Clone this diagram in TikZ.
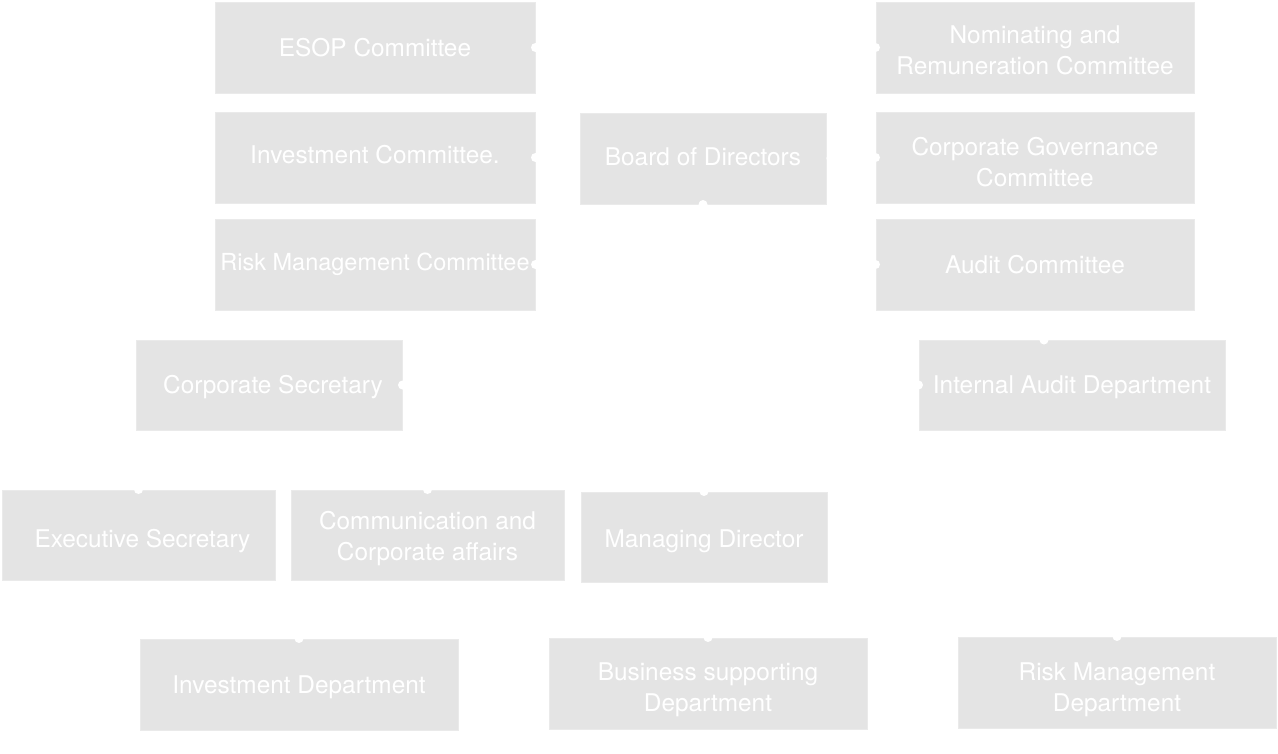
\documentclass[tikz,border=0pt]{standalone}
\usepackage{fontspec}
\setmainfont{TeX Gyre Heros}
\definecolor{boxgray}{HTML}{E4E4E4}
\definecolor{boxedge}{HTML}{EAEAEA}
\newcommand{\lift}[1]{\rule{0pt}{#1pt}}
\tikzset{
  box/.style={rectangle, fill=boxgray, draw=boxedge, line width=1pt, text=white,
    font=\fontsize{24.4}{31}\selectfont, align=center, inner sep=0pt, minimum height=90pt},
  dn/.style={execute at begin node={\rule{0pt}{#1pt}}},
  up/.style={execute at end node={\rule[-#1pt]{0pt}{0pt}}},
  link/.style={draw=white, line width=2pt},
  dot/.style={circle, fill=white, inner sep=0pt, minimum size=9pt}
}
\begin{document}
\begin{tikzpicture}[x=1pt,y=-1pt]
\useasboundingbox (0,0) rectangle (1278,753);
\fill[white] (0,0) rectangle (1278,753);
% left committees
\node[box, minimum width=320pt, minimum height=91pt] (esop) at (375,47.5) {ESOP Committee};
\node[box, minimum width=320pt, minimum height=91pt, up=6] (invc) at (375,157.5) {Investment Committee.};
\node[box, minimum width=320pt, minimum height=91pt, font=\fontsize{23.5}{31}\selectfont] (riskc) at (375,264.5) {Risk Management Committee};
% board
\node[box, minimum width=246pt, minimum height=91pt, up=4] (board) at (703,158.5) {Board of Directors};
% right committees
\node[box, minimum width=318pt, minimum height=91pt] (nom) at (1035,47.5) {\lift{24}Nominating and\\Remuneration Committee};
\node[box, minimum width=318pt, minimum height=91pt] (corpgov) at (1035,157.5) {\lift{28}Corporate Governance\\Committee};
\node[box, minimum width=318pt, minimum height=91pt] (audit) at (1035,264.5) {Audit Committee};
% middle row
\node[box, minimum width=306pt, dn=22] (intaudit) at (1072,385) {Internal Audit Department};
\node[box, minimum width=266pt, dn=22] (corpsec) at (269,385) {\hspace*{8pt}Corporate Secretary};
% fourth row
\node[box, minimum width=273pt, dn=30] (execsec) at (138.5,535) {\hspace*{8pt}Executive Secretary};
\node[box, minimum width=273pt] (comm) at (427.5,535) {\lift{26}Communication and\\Corporate affairs};
\node[box, minimum width=246pt, dn=26] (md) at (704,537) {Managing Director};
% bottom row
\node[box, minimum width=318pt, minimum height=91pt, dn=24] (invdept) at (299,684.5) {Investment Department};
\node[box, minimum width=318pt, minimum height=91pt] (bizsup) at (708,683.5) {\lift{30}Business supporting\\Department};
\node[box, minimum width=318pt, minimum height=91pt] (riskdept) at (1117,682.5) {\lift{32}Risk Management\\Department};
% junctions
\coordinate (jl) at (557,157);
\coordinate (jr) at (851,157);
\coordinate (jm) at (704,385);
\coordinate (ad) at (1044,340);
% connectors (white)
\draw[link] (board.west) -- (jl) |- (esop.east);
\draw[link] (jl) |- (invc.east);
\draw[link] (jl) |- (riskc.east);
\draw[link] (board.east) -- (jr) |- (nom.west);
\draw[link] (jr) |- (corpgov.west);
\draw[link] (jr) |- (audit.west);
\draw[link] (board.south) -- (md.north);
\draw[link] (jm) -- (corpsec.east);
\draw[link] (jm) -- (intaudit.west);
\draw[link] (ad |- audit.south) -- (ad);
\draw[link] (corpsec.south) -- ++(0,30) -| (execsec.north);
\draw[link] (corpsec.south) -- ++(0,30) -| (comm.north);
\draw[link] (md.south) -- ++(0,28) -| (invdept.north);
\draw[link] (md.south) -- ++(0,28) -| (bizsup.north);
\draw[link] (md.south) -- ++(0,28) -| (riskdept.north);
% dots
\foreach \p in {esop.east, invc.east, riskc.east, nom.west, corpgov.west, audit.west,
  intaudit.west, ad, board.south, corpsec.east, execsec.north, comm.north, md.north,
  invdept.north, bizsup.north, riskdept.north}
  \node[dot] at (\p) {};
\end{tikzpicture}
\end{document}
